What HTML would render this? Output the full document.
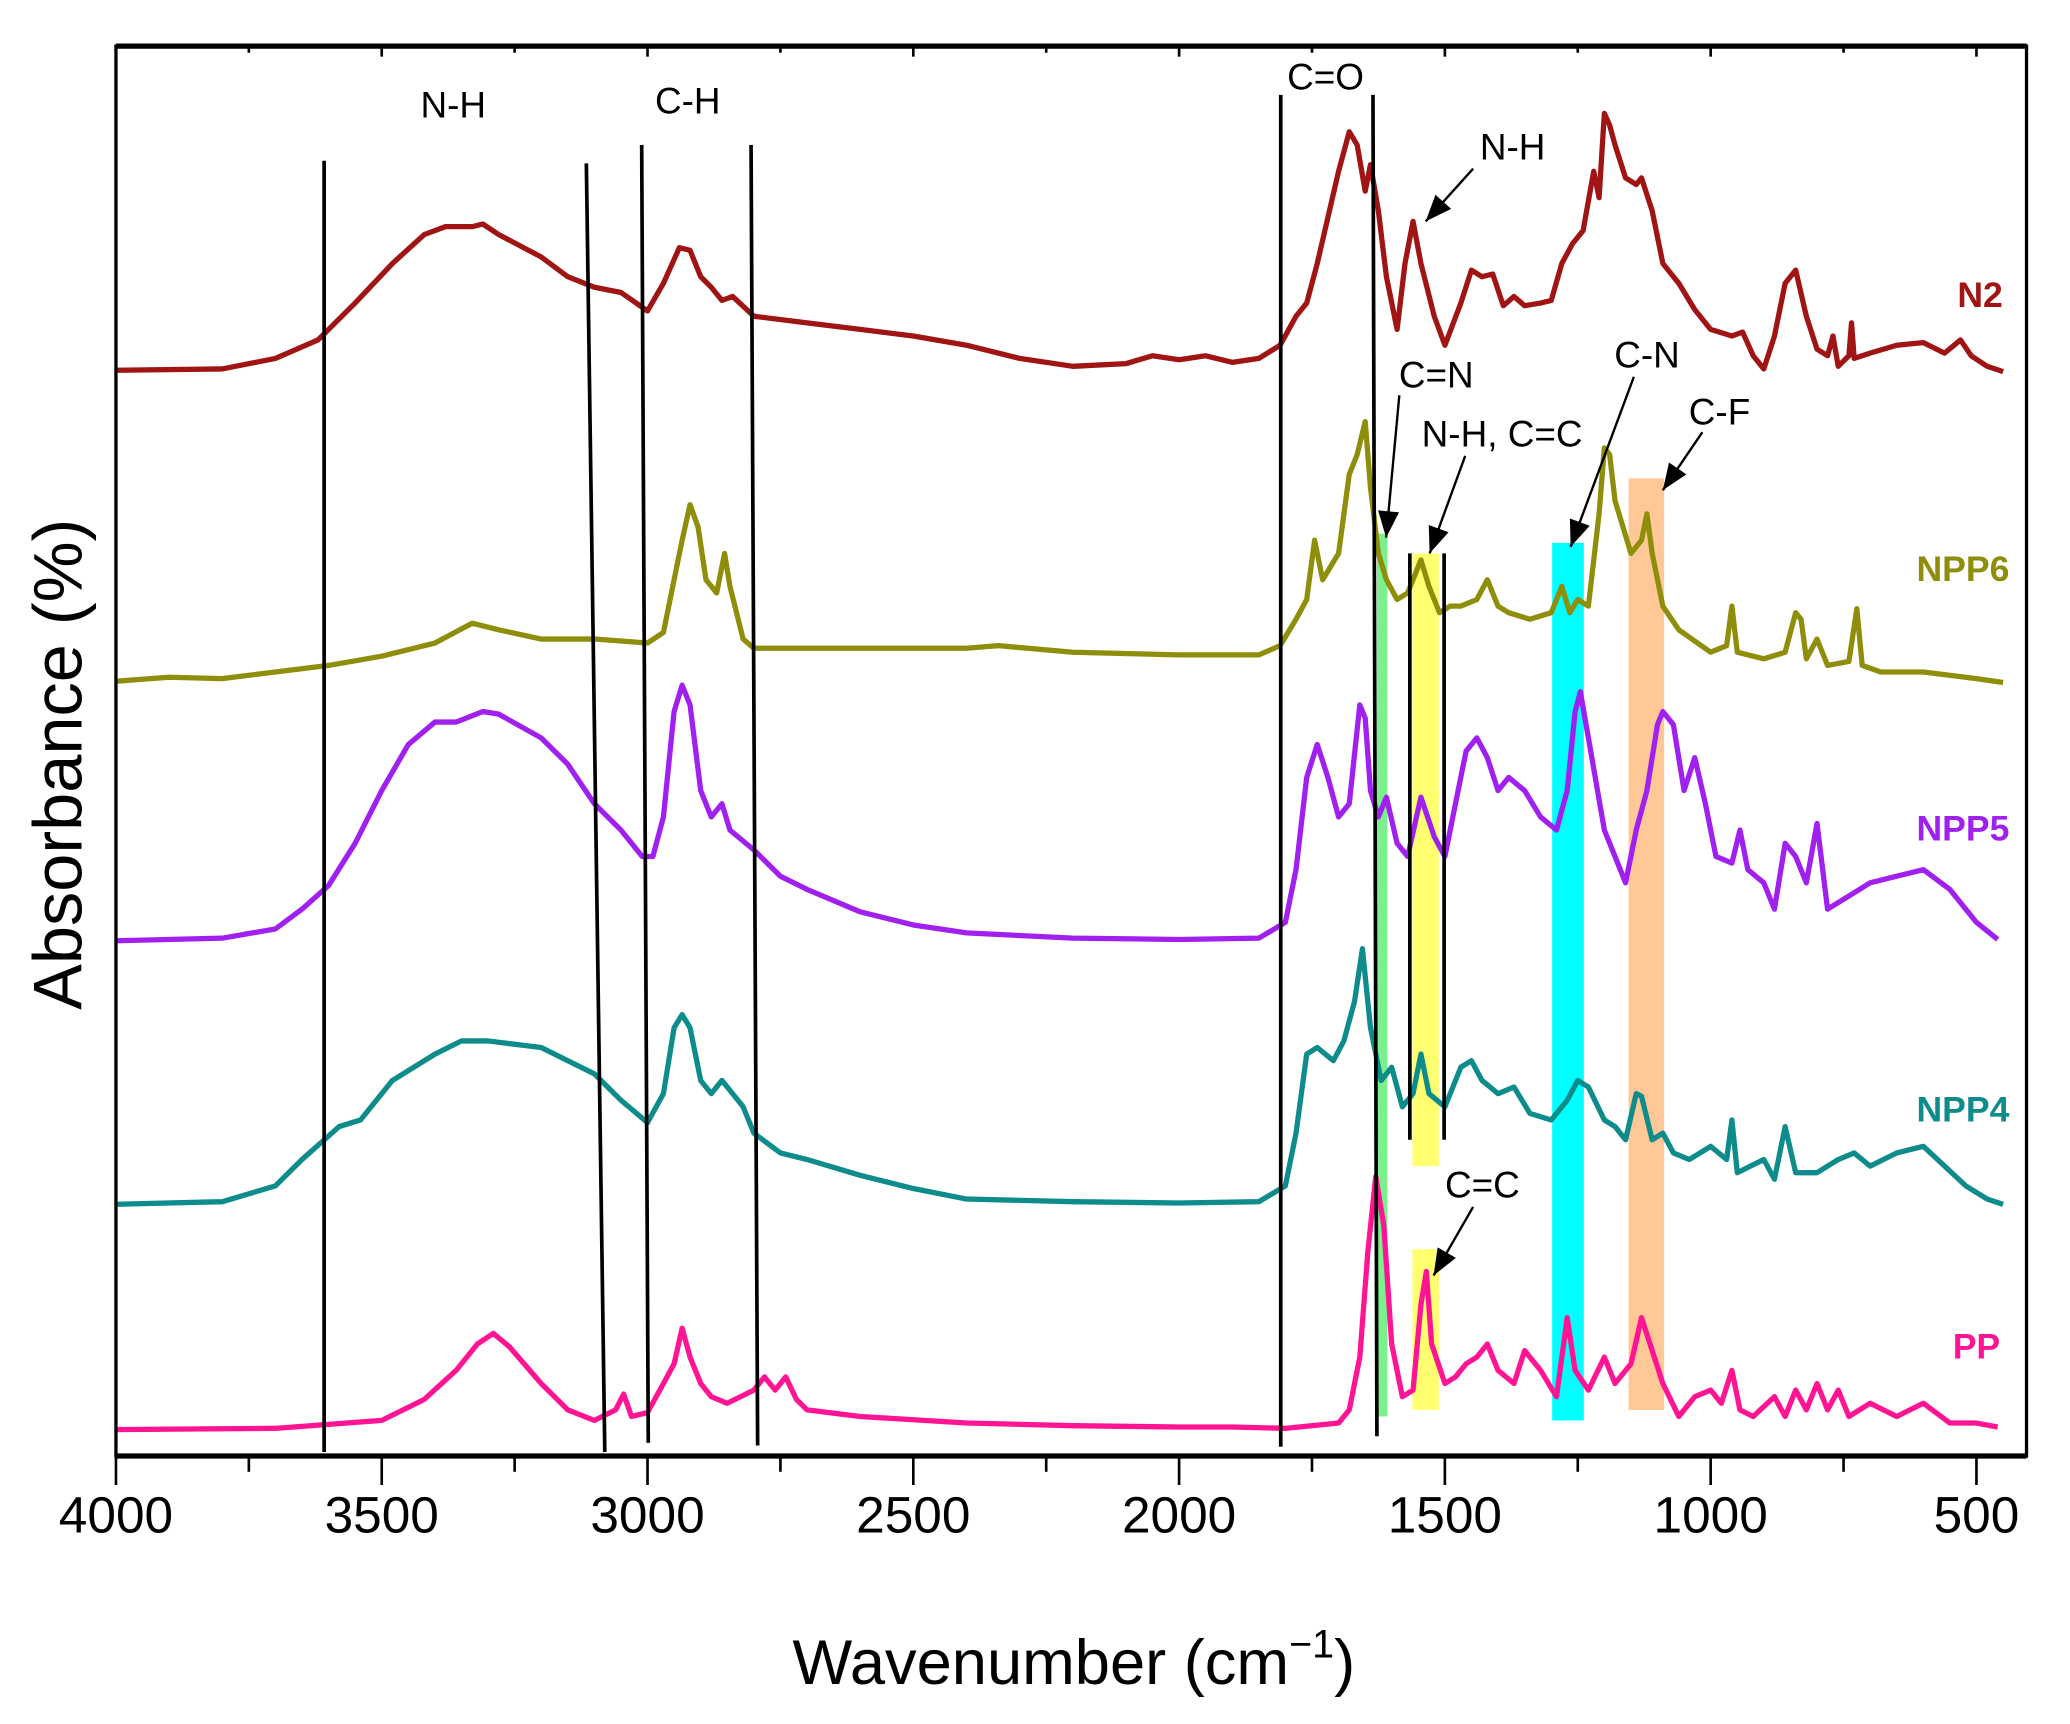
<!DOCTYPE html>
<html><head><meta charset="utf-8"><style>
html,body{margin:0;padding:0;background:#fff;}
svg{display:block;font-family:"Liberation Sans",Arial,sans-serif;}
</style></head><body>
<svg id="chart" width="2070" height="1724" viewBox="0 0 1571 1308.4" xmlns="http://www.w3.org/2000/svg">
<g id="bands">
<rect x="1045" y="405" width="8" height="670" fill="#7CF08C"/>
<rect x="1072" y="420" width="20" height="465" fill="#FFFF70"/>
<rect x="1072" y="948" width="20" height="122" fill="#FFFF70"/>
<rect x="1178" y="412" width="24" height="666" fill="#00FFFF"/>
<rect x="1236" y="363" width="27" height="707" fill="#FFC896"/>
</g>
<g id="series"></g>
<g id="vlines" stroke="#000" stroke-width="2.8">
<line x1="246" y1="122" x2="246" y2="1102"/>
<line x1="445" y1="124" x2="459" y2="1102"/>
<line x1="487" y1="110" x2="492" y2="1095"/>
<line x1="570" y1="110" x2="575" y2="1097"/>
<line x1="972" y1="72" x2="972" y2="1098"/>
<line x1="1042" y1="72" x2="1045" y2="1090"/>
<line x1="1070" y1="420" x2="1070" y2="865"/>
<line x1="1096" y1="420" x2="1096" y2="865"/>
</g>
<g id="annotations" font-size="28" fill="#000">
<text x="344" y="89" text-anchor="middle">N-H</text>
<text x="522" y="86" text-anchor="middle">C-H</text>
<text x="1006" y="68" text-anchor="middle">C=O</text>
<text x="1148" y="121" text-anchor="middle">N-H</text>
<text x="1090" y="294" text-anchor="middle">C=N</text>
<text x="1140" y="339" text-anchor="middle">N-H, C=C</text>
<text x="1250" y="279" text-anchor="middle">C-N</text>
<text x="1305" y="322" text-anchor="middle">C-F</text>
<text x="1125" y="909" text-anchor="middle">C=C</text>
</g>
<g id="arrows" stroke="#000" stroke-width="1.8" fill="#000"></g>
<g id="axes"></g>
<g id="labels" font-size="27" font-weight="bold"></g>
<text x="0" y="0" transform="translate(62,580) rotate(-90)" text-anchor="middle" font-size="52">Absorbance (%)</text>
<text x="815" y="1278" text-anchor="middle" font-size="48">Wavenumber (cm<tspan font-size="30" dy="-20">−1</tspan><tspan dy="20">)</tspan></text>
</svg>
<script>
const NS="http://www.w3.org/2000/svg";
const xTicks=[4000,3500,3000,2500,2000,1500,1000,500];
const seriesNames=["N2","NPP6","NPP5","NPP4","PP"];
const seriesColors=["#A01414","#8E8E0A","#A020F0","#0E8C8C","#FF1493"];
const N2=[[4000,824],[3800,825],[3700,833],[3620,847],[3550,875],[3480,905],[3420,927],[3380,933],[3330,933],[3310,935],[3280,927],[3200,910],[3150,895],[3100,887],[3050,883],[3000,869],[2970,890],[2940,917],[2920,915],[2900,895],[2880,887],[2860,877],[2840,880],[2800,865],[2700,860],[2600,855],[2500,850],[2400,843],[2300,833],[2200,827],[2100,829],[2050,835],[2000,832],[1950,835],[1900,830],[1850,833],[1810,843],[1780,865],[1760,875],[1740,905],[1700,975],[1680,1005],[1665,995],[1650,960],[1640,980],[1625,945],[1610,895],[1590,855],[1575,905],[1560,937],[1545,905],[1520,865],[1500,843],[1470,875],[1450,900],[1430,895],[1410,897],[1390,873],[1370,880],[1350,873],[1320,875],[1300,877],[1280,905],[1260,920],[1240,930],[1220,975],[1210,955],[1200,1019],[1190,1010],[1180,995],[1160,970],[1140,965],[1130,970],[1110,945],[1090,905],[1060,890],[1030,870],[1000,855],[960,850],[940,853],[920,835],[900,825],[880,850],[860,890],[840,900],[820,865],[800,840],[780,835],[770,850],[760,827],[740,835],[735,860],[730,833],[700,837],[650,843],[600,845],[560,837],[530,847],[510,835],[480,827],[450,823]];
const NPP6=[[4000,588],[3900,591],[3800,590],[3700,595],[3600,600],[3500,607],[3400,617],[3330,632],[3280,627],[3200,620],[3100,620],[3000,617],[2970,625],[2950,665],[2935,695],[2920,722],[2905,705],[2890,665],[2870,655],[2855,685],[2845,660],[2820,620],[2800,613],[2600,613],[2400,613],[2340,615],[2200,610],[2000,608],[1850,608],[1810,615],[1780,635],[1760,650],[1745,695],[1730,665],[1700,685],[1680,745],[1665,760],[1650,785],[1640,735],[1625,685],[1610,665],[1590,650],[1570,655],[1545,680],[1530,660],[1510,640],[1490,645],[1470,645],[1440,650],[1420,665],[1400,645],[1380,640],[1340,635],[1300,640],[1280,660],[1265,640],[1250,650],[1230,645],[1210,715],[1200,765],[1190,760],[1180,725],[1150,685],[1130,695],[1120,715],[1110,685],[1090,645],[1060,627],[1000,610],[970,615],[960,645],[950,610],[900,605],[860,610],[840,640],[830,635],[820,605],[800,620],[780,600],[740,603],[725,643],[715,600],[680,595],[600,595],[500,590],[450,587]];
const NPP5=[[4000,391],[3800,393],[3700,400],[3650,415],[3600,433],[3550,465],[3500,505],[3450,540],[3400,557],[3360,557],[3310,565],[3280,563],[3200,545],[3150,525],[3100,495],[3050,475],[3010,455],[2990,455],[2970,485],[2950,565],[2935,585],[2920,570],[2900,505],[2880,485],[2860,495],[2845,475],[2800,460],[2750,440],[2700,430],[2600,413],[2500,403],[2400,397],[2200,393],[2000,392],[1850,393],[1800,405],[1780,445],[1760,515],[1740,540],[1720,515],[1700,485],[1680,495],[1660,570],[1650,560],[1640,505],[1625,485],[1610,500],[1590,465],[1570,455],[1545,500],[1520,470],[1500,455],[1480,495],[1460,535],[1440,545],[1420,530],[1400,505],[1380,515],[1350,505],[1320,485],[1290,475],[1270,505],[1255,565],[1245,580],[1230,545],[1200,475],[1180,455],[1160,435],[1140,475],[1120,505],[1100,555],[1090,565],[1070,555],[1050,505],[1030,530],[1010,495],[990,455],[960,450],[945,475],[930,445],[900,435],[880,415],[860,465],[840,455],[820,435],[800,480],[780,415],[740,425],[700,435],[650,440],[600,445],[550,430],[500,405],[460,392]];
const NPP4=[[4000,191],[3800,193],[3700,205],[3650,225],[3580,250],[3540,255],[3480,285],[3400,305],[3350,315],[3300,315],[3200,310],[3100,290],[3050,270],[3000,253],[2970,275],[2950,325],[2935,335],[2920,325],[2900,285],[2880,275],[2860,285],[2840,275],[2820,265],[2800,245],[2750,230],[2700,225],[2600,213],[2500,203],[2400,195],[2200,193],[2000,192],[1850,193],[1800,205],[1780,245],[1760,305],[1740,310],[1710,300],[1690,315],[1670,345],[1655,385],[1640,325],[1620,285],[1600,295],[1580,265],[1560,275],[1545,305],[1530,275],[1500,265],[1470,295],[1450,300],[1430,285],[1400,275],[1370,280],[1340,260],[1300,255],[1270,270],[1250,285],[1230,280],[1200,255],[1180,250],[1160,240],[1140,275],[1130,273],[1110,240],[1090,245],[1070,230],[1040,225],[1000,235],[970,225],[960,255],[950,215],[900,225],[880,210],[860,250],[840,215],[800,215],[760,225],[730,230],[700,220],[650,230],[600,235],[560,220],[520,205],[480,195],[450,191]];
const PP=[[4000,20],[3700,21],[3500,27],[3420,43],[3360,65],[3320,85],[3290,93],[3260,83],[3200,55],[3150,35],[3100,27],[3060,35],[3045,47],[3030,30],[3000,33],[2970,55],[2950,70],[2935,97],[2920,75],[2900,55],[2880,45],[2850,40],[2800,50],[2780,60],[2760,50],[2740,60],[2720,43],[2700,35],[2600,30],[2400,25],[2200,23],[2000,22],[1900,22],[1800,21],[1700,25],[1680,35],[1660,75],[1645,155],[1630,212],[1615,175],[1600,85],[1580,45],[1560,50],[1545,115],[1535,140],[1525,85],[1500,55],[1480,60],[1460,70],[1440,75],[1420,85],[1400,65],[1370,55],[1350,80],[1320,65],[1290,45],[1270,105],[1255,65],[1230,50],[1200,75],[1180,55],[1150,70],[1130,105],[1110,80],[1090,55],[1060,30],[1030,45],[1000,50],[980,40],[960,65],[945,35],[920,30],[880,45],[860,30],[840,50],[820,35],[800,55],[780,35],[760,50],[740,30],[700,40],[650,30],[600,40],[550,25],[500,25],[460,22]];
const allSeries=[N2,NPP6,NPP5,NPP4,PP];

const L=88,R=1538,T=35,B=1105;
function xs(w){return L+(4000-w)*(1412/3500);}
function ys(v){return B-v;}

const sg=document.getElementById('series');
allSeries.forEach((s,i)=>{
  const p=document.createElementNS(NS,'path');
  p.setAttribute('d',s.map((pt,j)=>(j?'L':'M')+xs(pt[0]).toFixed(1)+','+ys(pt[1]).toFixed(1)).join(''));
  p.setAttribute('fill','none');p.setAttribute('stroke',seriesColors[i]);
  p.setAttribute('stroke-width','4');p.setAttribute('stroke-linejoin','round');
  
  
  sg.appendChild(p);
});

const lg=document.getElementById('labels');
const labelPos=[[1520,233],[1525,441],[1525,638],[1525,851],[1518,1031]];
seriesNames.forEach((n,i)=>{
  const t=document.createElementNS(NS,'text');
  t.setAttribute('x',labelPos[i][0]);t.setAttribute('y',labelPos[i][1]);
  t.setAttribute('text-anchor','end');t.setAttribute('fill',seriesColors[i]);
  t.textContent=n;
  
  
  lg.appendChild(t);
});

const ag=document.getElementById('arrows');
const arrowDefs=[[1118,128,1082,168],[1062,300,1052,408],[1112,346,1085,420],[1240,286,1192,415],[1292,328,1262,372],[1118,916,1088,968]];
arrowDefs.forEach(a=>{
  const [x1,y1,x2,y2]=a;
  const ln=document.createElementNS(NS,'line');
  ln.setAttribute('x1',x1);ln.setAttribute('y1',y1);ln.setAttribute('x2',x2);ln.setAttribute('y2',y2);
  
  
  ag.appendChild(ln);
  const ang=Math.atan2(y2-y1,x2-x1),len=20,wd=8;
  const bx=x2-len*Math.cos(ang),by=y2-len*Math.sin(ang);
  const px=-Math.sin(ang)*wd,py=Math.cos(ang)*wd;
  const h=document.createElementNS(NS,'polygon');
  h.setAttribute('points',`${x2},${y2} ${bx+px},${by+py} ${bx-px},${by-py}`);
  h.setAttribute('stroke','none');
  
  
  ag.appendChild(h);
});

const axg=document.getElementById('axes');
function mk(tag,attrs){const e=document.createElementNS(NS,tag);for(const k in attrs)e.setAttribute(k,attrs[k]);axg.appendChild(e);return e;}
const frame=mk('rect',{x:L,y:T,width:R-L,height:B-T,fill:'none',stroke:'#000','stroke-width':2.5});


const bl=mk('line',{x1:L,y1:B,x2:R,y2:B,stroke:'#000','stroke-width':4});


const tl=mk('line',{x1:L,y1:T,x2:R,y2:T,stroke:'#000','stroke-width':4});


for(let w=4000;w>=500;w-=250){
  const major=(w%500===0);
  const x=xs(w);
  const tk=mk('line',{x1:x,y1:B,x2:x,y2:B+(major?22:12),stroke:'#000','stroke-width':2});
  
  
  const tt=mk('line',{x1:x,y1:T,x2:x,y2:T+(major?8:5),stroke:'#000','stroke-width':2});
  
  
}
xTicks.forEach(w=>{
  const t=mk('text',{x:xs(w),y:B+58,'text-anchor':'middle','font-size':39});
  t.textContent=w;
  
  
});
</script>
</body></html>
